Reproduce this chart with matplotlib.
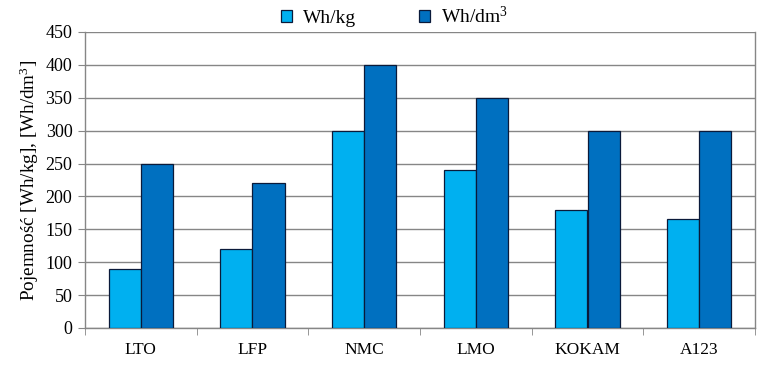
import matplotlib
matplotlib.use("Agg")
import matplotlib.pyplot as plt
import numpy as np

categories = ["LTO", "LFP", "NMC", "LMO", "KOKAM", "A123"]
wh_kg = [90, 120, 300, 240, 180, 165]
wh_dm3 = [250, 220, 400, 350, 300, 300]
series_labels = ["Wh/kg", "Wh/dm$^3$"]
yticks = [0, 50, 100, 150, 200, 250, 300, 350, 400, 450]

plt.rcParams['font.family'] = ['Liberation Serif', 'DejaVu Serif']
plt.rcParams['mathtext.fontset'] = 'custom'
plt.rcParams['mathtext.rm'] = 'Liberation Serif'
plt.rcParams['mathtext.it'] = 'Liberation Serif'
plt.rcParams['mathtext.default'] = 'regular'

fig = plt.figure(figsize=(7.65, 3.68), dpi=100)
ax = fig.add_axes([85/765, 40/368, 670/765, 296/368])

x = np.arange(len(categories))
w = 0.287
ax.bar(x - w/2, wh_kg, w, color='#00B0F0', edgecolor='#0a1a3a', linewidth=0.9,
       label=series_labels[0], zorder=3)
ax.bar(x + w/2, wh_dm3, w, color='#0070C0', edgecolor='#0a1a3a', linewidth=0.9,
       label=series_labels[1], zorder=3)

ax.set_xlim(-0.5, len(categories) - 0.5)
ax.set_ylim(0, 450)
ax.set_yticks(yticks)
ax.set_yticklabels([str(v) for v in yticks], fontsize=13)
ax.yaxis.grid(True, color='#868686', linewidth=1.0, zorder=0)
ax.set_axisbelow(True)

ax.set_xticks(x)
ax.set_xticklabels(categories, fontsize=12.5)
ax.tick_params(axis='x', which='major', length=0, pad=10)
ax.set_xticks(np.arange(-0.5, len(categories)), minor=True)
ax.tick_params(axis='x', which='minor', length=5, color='#868686', direction='out')
ax.tick_params(axis='y', length=5, color='#868686', direction='out', pad=4)

for s in ['left', 'bottom', 'right']:
    ax.spines[s].set_color('#868686')
    ax.spines[s].set_linewidth(1.0)
ax.spines['top'].set_visible(False)

ax.set_ylabel("Pojemność [Wh/kg], [Wh/dm$^3$]", fontsize=13.8, labelpad=3)

leg = fig.legend(loc='center', bbox_to_anchor=(0.5156, 1 - 16/368), ncol=2, frameon=False,
                 fontsize=14, handlelength=0.55, handleheight=0.55, handletextpad=0.55,
                 columnspacing=3.25)

fig.savefig("out.png", dpi=100)
